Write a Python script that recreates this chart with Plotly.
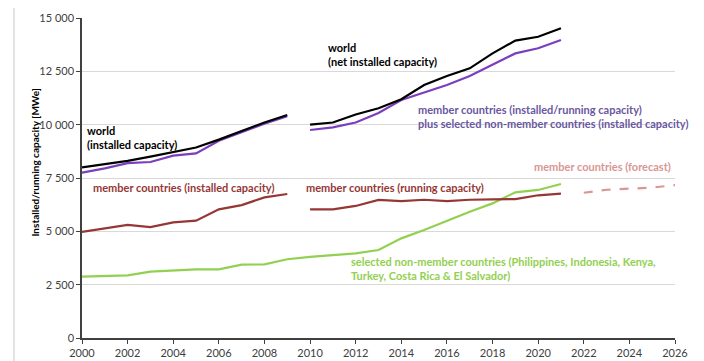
import plotly.graph_objects as go

years_a = list(range(2000, 2010))
years_b = list(range(2010, 2022))
years_fc = list(range(2022, 2027))
years_green = list(range(2000, 2022))

world_installed = [8000, 8150, 8300, 8500, 8700, 8930, 9300, 9700, 10100, 10450]
world_net = [10000, 10100, 10480, 10770, 11190, 11860, 12280, 12640, 13340, 13940, 14120, 14520]
members_plus_a = [7750, 7950, 8200, 8250, 8550, 8650, 9250, 9650, 10050, 10400]
members_plus_b = [9750, 9870, 10100, 10550, 11160, 11500, 11860, 12280, 12800, 13340, 13580, 13970]
member_installed = [4970, 5140, 5300, 5200, 5420, 5500, 6030, 6230, 6590, 6750]
member_running = [6030, 6030, 6190, 6470, 6420, 6480, 6420, 6480, 6500, 6510, 6690, 6770]
member_forecast = [6810, 6950, 7000, 7050, 7170]
non_member = [2875, 2900, 2940, 3110, 3160, 3220, 3220, 3440, 3450, 3690, 3800, 3875,
              3970, 4125, 4670, 5060, 5500, 5920, 6310, 6830, 6940, 7220]

y_ticks = [0, 2500, 5000, 7500, 10000, 12500, 15000]
y_tick_labels = ["0", "2 500", "5 000", "7 500", "10 000", "12 500", "15 000"]
x_ticks = list(range(2000, 2027, 2))

BLACK = "#000000"
PURPLE = "#7b3fbd"
PURPLE_TXT = "#6a57a0"
DRED = "#953735"
PINK = "#d99694"
GREEN = "#92d050"
FONT = "Lato"

fig = go.Figure()

def line(x, y, color, dash="solid", width=2.2):
    fig.add_trace(go.Scatter(x=x, y=y, mode="lines", line=dict(color=color, width=width, dash=dash),
                             showlegend=False, hoverinfo="skip"))

line(years_green, non_member, GREEN)
line(years_a, member_installed, DRED)
line(years_b, member_running, DRED)
line(years_fc, member_forecast, PINK, dash="dash")
line(years_a, members_plus_a, PURPLE)
line(years_b, members_plus_b, PURPLE)
line(years_a, world_installed, BLACK)
line(years_b, world_net, BLACK)

def ann(x, y, text, color, xanchor="left", size=11):
    fig.add_annotation(x=x, y=y, xref="x", yref="y", text=text, showarrow=False,
                       xanchor=xanchor, yanchor="middle", align="left",
                       font=dict(family=FONT, size=size, color=color))

ann(2000.15, 9400, "<b>world<br>(installed capacity)</b>", BLACK)
ann(2010.7, 13300, "<b>world<br>(net installed capacity)</b>", BLACK)
ann(2014.65, 10380, "<b>member countries (installed/running capacity)<br>plus selected non-member countries (installed capacity)</b>", PURPLE_TXT)
ann(2000.4, 7040, "<b>member countries (installed capacity)</b>", DRED)
ann(2009.75, 7040, "<b>member countries (running capacity)</b>", DRED)
ann(2025.9, 8050, "<b>member countries (forecast)</b>", PINK, xanchor="right")
ann(2011.7, 3250, "<b>selected non-member countries (Philippines, Indonesia, Kenya,<br>Turkey, Costa Rica &amp; El Salvador)</b>", GREEN)

fig.add_annotation(x=-0.08, y=0.547, xref="paper", yref="paper", text="<b>Installed/running capacity [MWe]</b>",
                   textangle=-90, showarrow=False, xanchor="center", yanchor="middle",
                   font=dict(family=FONT, size=10, color="#000000"))

fig.add_shape(type="rect", xref="paper", yref="paper", x0=-0.1147, x1=1.037, y0=-0.2, y1=1.036,
              line=dict(color="#d0d0d0", width=1.2), fillcolor="rgba(0,0,0,0)", layer="below")

fig.update_layout(
    width=704, height=361,
    margin=dict(l=74, r=37, t=9.5, b=31, autoexpand=False),
    paper_bgcolor="white", plot_bgcolor="white",
    font=dict(family=FONT, size=11, color="#404040"),
    xaxis=dict(range=[2000, 2026], tickvals=x_ticks, ticks="outside", ticklen=4, tickcolor="#404040",
               showline=True, linecolor="#404040", linewidth=1.5, showgrid=False, zeroline=False,
               automargin=False,
               tickfont=dict(family=FONT, size=11, color="#404040")),
    yaxis=dict(range=[0, 15000], tickvals=y_ticks, ticktext=y_tick_labels, ticks="outside", ticklen=4,
               tickcolor="#404040", showline=True, linecolor="#404040", linewidth=1.5,
               showgrid=True, gridcolor="#d9d9d9", gridwidth=1.2, zeroline=False,
               automargin=False,
               tickfont=dict(family=FONT, size=11, color="#404040")),
)

fig.write_html("out.html")
